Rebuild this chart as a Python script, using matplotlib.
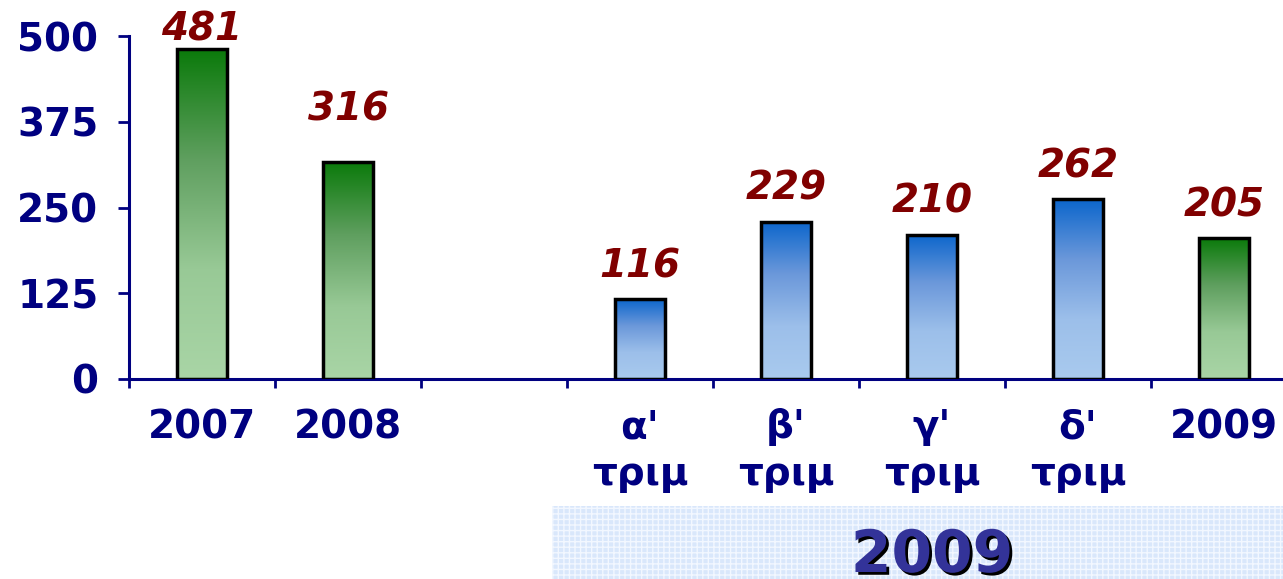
import numpy as np
import matplotlib
matplotlib.use("Agg")
import matplotlib.pyplot as plt
import matplotlib.patheffects as pe
from matplotlib.patches import Rectangle
from matplotlib.colors import LinearSegmentedColormap

# data
labels = ["2007", "2008", "", "α'\nτριμ", "β'\nτριμ", "γ'\nτριμ", "δ'\nτριμ", "2009"]
values = [481, 316, None, 116, 229, 210, 262, 205]
groups = ["year", "year", None, "quarter", "quarter", "quarter", "quarter", "year"]
yticks = [0, 125, 250, 375, 500]
box_label = "2009"

# value label lift above each bar (points)
label_lift = [6.5, 30, 0, 16, 16, 16, 16, 16]

navy = "#000080"
green = LinearSegmentedColormap.from_list("g", ["#a9d5a6", "#98c996", "#5f9f5f", "#0b7a0b"])
blue = LinearSegmentedColormap.from_list("b", ["#a9caee", "#9cbfea", "#6b98da", "#0c66cc"])
cmaps = {"year": green, "quarter": blue}

fig = plt.figure(figsize=(12.83, 5.79), dpi=100)
ax = fig.add_axes([129 / 1283, 1 - 379 / 579, 1168 / 1283, 343 / 579])

x = np.arange(len(labels))
width = 0.34
grad = np.linspace(0, 1, 256).reshape(-1, 1)
for xi, v, g, lift in zip(x, values, groups, label_lift):
    if v is None:
        continue
    bar = ax.bar(xi, v, width, facecolor="none", edgecolor="black", linewidth=2.5, zorder=3)[0]
    im = ax.imshow(grad, cmap=cmaps[g], origin="lower", aspect="auto",
                   extent=(xi - width / 2, xi + width / 2, 0, v), zorder=2)
    im.set_clip_path(bar)
    ax.annotate(str(v), (xi, v), xytext=(0, lift), textcoords="offset points",
                ha="center", va="baseline", fontsize=28, fontweight="bold",
                fontstyle="italic", color="#800000", annotation_clip=False)

ax.set_xlim(-0.5, len(labels) - 0.5)
ax.set_ylim(0, 500)
ax.set_yticks(yticks)
ax.set_xticks(np.arange(-0.5, len(labels)), [""] * (len(labels) + 1))
ax.set_xticks(x, labels, minor=True)

for s in ["top", "right"]:
    ax.spines[s].set_visible(False)
for s in ["left", "bottom"]:
    ax.spines[s].set_color(navy)
    ax.spines[s].set_linewidth(2.2)

ax.tick_params(axis="y", colors=navy, length=8, width=2, pad=14, labelsize=28)
ax.tick_params(axis="x", which="major", colors=navy, length=6.5, width=2)
ax.tick_params(axis="x", which="minor", length=0, pad=21, labelsize=28, labelcolor=navy)
for t in ax.get_yticklabels() + ax.get_xticklabels(minor=True):
    t.set_fontweight("bold")
    t.set_linespacing(1.3)

# patterned box with the year under the quarters
box = Rectangle((552 / 1283, 0), 0.6, (579 - 506) / 579, transform=fig.transFigure,
                facecolor="#d9e7fb", edgecolor="#f2f7ff", hatch="+++", linewidth=0, zorder=0)
fig.patches.append(box)
fig.text(932 / 1283, 7 / 579, box_label, ha="center", va="baseline", fontsize=42,
         fontweight="bold", color="#333399",
         path_effects=[pe.SimplePatchShadow(offset=(2, -2), shadow_rgbFace="black", alpha=1),
                       pe.Normal()])

fig.savefig("out.png", dpi=100)
